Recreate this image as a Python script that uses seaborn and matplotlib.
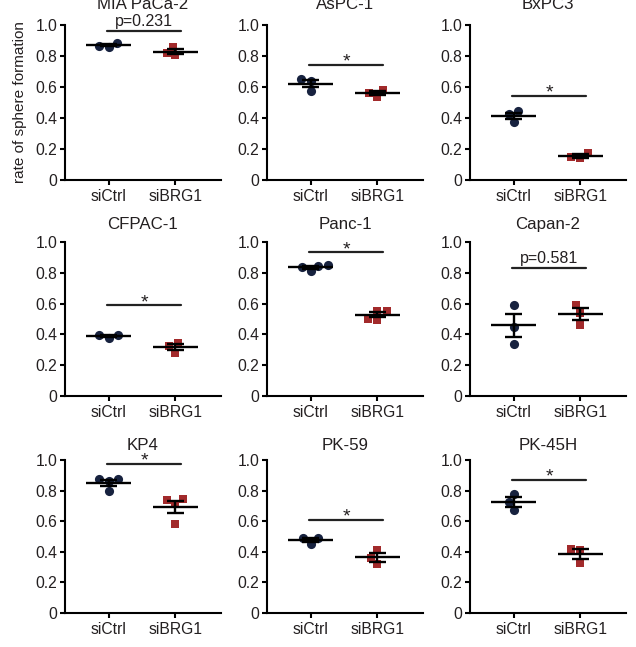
import matplotlib
matplotlib.use("Agg")
import matplotlib.pyplot as plt
import numpy as np
import pandas as pd
import seaborn as sns

# ---------------- data ----------------
titles = ["MIA PaCa-2", "AsPC-1", "BxPC3",
          "CFPAC-1", "Panc-1", "Capan-2",
          "KP4", "PK-59", "PK-45H"]
groups = ["siCtrl", "siBRG1"]

ctrl_values = [
    [0.886, 0.860, 0.865],
    [0.649, 0.641, 0.576],
    [0.445, 0.424, 0.372],
    [0.393, 0.377, 0.393],
    [0.846, 0.809, 0.837, 0.852],
    [0.592, 0.451, 0.336],
    [0.878, 0.795, 0.862, 0.873],
    [0.487, 0.448, 0.487],
    [0.778, 0.724, 0.670],
]
brg1_values = [
    [0.860, 0.806, 0.820],
    [0.581, 0.538, 0.559],
    [0.176, 0.140, 0.151],
    [0.347, 0.325, 0.282],
    [0.553, 0.495, 0.503, 0.555],
    [0.592, 0.542, 0.462],
    [0.736, 0.710, 0.742, 0.583],
    [0.415, 0.360, 0.317],
    [0.420, 0.413, 0.326],
]
sig_labels = ["p=0.231", "*", "*", "*", "*", "p=0.581", "*", "*", "*"]
sig_heights = [0.963, 0.742, 0.542, 0.588, 0.933, 0.831, 0.976, 0.607, 0.872]
ytick_values = [0, 0.2, 0.4, 0.6, 0.8, 1.0]
ytick_labels = ["0", "0.2", "0.4", "0.6", "0.8", "1.0"]
ylabel_text = "rate of sphere formation"

rows = []
for t, cv, bv in zip(titles, ctrl_values, brg1_values):
    for v in cv:
        rows.append({"cell": t, "group": "siCtrl", "rate": v})
    for v in bv:
        rows.append({"cell": t, "group": "siBRG1", "rate": v})
df = pd.DataFrame(rows)

# ---------------- style ----------------
sns.set_theme(style="ticks")
plt.rcParams["font.family"] = ["Liberation Sans", "DejaVu Sans"]

navy = "#17223f"
red = "#a22a2b"
txt_col = "#231f20"

W, H = 636, 647
fig = plt.figure(figsize=(W / 100, H / 100), dpi=100)

col_left = [65, 267, 470]
row_top = [25, 242, 460]
row_bottom = [180, 396, 613]
ax_w = 156
title_pads = [11.5, 9.5, 7.0]

for i, title in enumerate(titles):
    r, c = divmod(i, 3)
    l, t, b = col_left[c], row_top[r], row_bottom[r]
    ax = fig.add_axes([l / W, (H - b) / H, ax_w / W, (b - t) / H])
    sub = df[df["cell"] == title]

    sns.swarmplot(data=sub[sub["group"] == "siCtrl"], x="group", y="rate",
                  order=groups, color=navy, marker="o", size=6.6,
                  linewidth=0, ax=ax, zorder=2)
    sns.swarmplot(data=sub[sub["group"] == "siBRG1"], x="group", y="rate",
                  order=groups, color=red, marker="s", size=6.3,
                  linewidth=0, ax=ax, zorder=2)

    # mean +/- SEM
    for j, g in enumerate(groups):
        vals = sub.loc[sub["group"] == g, "rate"].to_numpy()
        m = vals.mean()
        se = vals.std(ddof=1) / np.sqrt(len(vals))
        ax.hlines(m, j - 0.34, j + 0.34, color="black", lw=1.7, zorder=3)
        ax.vlines(j, m - se, m + se, color="black", lw=1.7, zorder=3)
        ax.hlines([m - se, m + se], j - 0.13, j + 0.13, color="black",
                  lw=1.7, zorder=3)

    # significance bar
    y = sig_heights[i]
    ax.plot([-0.02, 1.08], [y, y], color="#222222", lw=1.6,
            clip_on=False, zorder=3)
    lab = sig_labels[i]
    if lab == "*":
        ax.text(0.53, y - 0.012, lab, ha="center", va="baseline",
                fontsize=14, color=txt_col, clip_on=False)
    else:
        ax.text(0.53, y + 0.03, lab, ha="center", va="baseline",
                fontsize=11.5, color=txt_col, clip_on=False)

    ax.set_xlim(-0.65, 1.68)
    ax.set_ylim(0, 1.0)
    ax.set_yticks(ytick_values)
    ax.set_yticklabels(ytick_labels)
    ax.set_xlabel("")
    ax.set_ylabel("")
    ax.set_title(title, fontsize=12.2, color=txt_col, pad=title_pads[r])
    sns.despine(ax=ax)
    for s in ["left", "bottom"]:
        ax.spines[s].set_linewidth(1.5)
        ax.spines[s].set_color("black")
    ax.tick_params(axis="both", width=1.5, length=3.5, labelsize=11.3,
                   pad=2, color="black", labelcolor=txt_col)
    ax.tick_params(axis="x", pad=3)

    if i == 0:
        ax.set_ylabel(ylabel_text, fontsize=11, color=txt_col)
        ax.yaxis.set_label_coords(-0.245, 0.5)

fig.savefig("out.png", dpi=100)
